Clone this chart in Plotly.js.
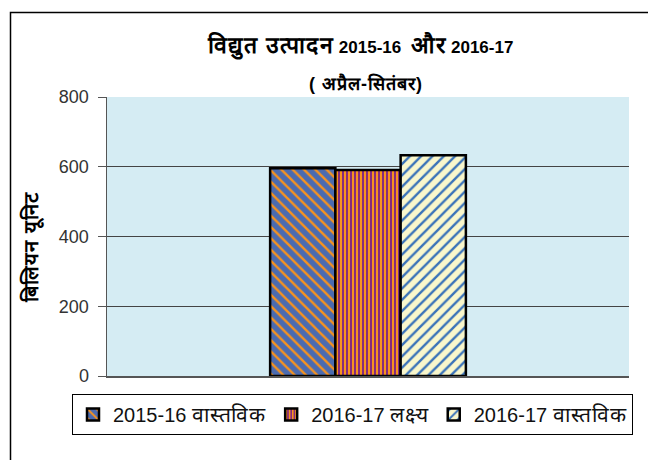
<!DOCTYPE html>
<html>
<head>
<meta charset="utf-8">
<script src="https://cdn.plot.ly/plotly-3.0.1.min.js"></script>
<style>
html,body{margin:0;padding:0;background:#fff;}
#chart{width:648px;height:460px;}
</style>
</head>
<body>
<div id="chart"></div>
<script>
const categories = ["अप्रैल-सितंबर"];
const seriesYears = ["2015-16", "2016-17", "2016-17"];
const seriesKinds = ["वास्तविक", "लक्ष्य", "वास्तविक"];
const val2015Actual = [596];
const val2016Target = [591];
const val2016Actual = [633];
const yTickVals = [0, 200, 400, 600, 800];
const titleWords = ["विद्युत उत्पादन", "2015-16", "और", "2016-17"];
const subtitleText = "( अप्रैल-सितंबर)";
const yTitle = "बिलियन यूनिट";

// Devanagari runs are slightly enlarged to match the wider reference typeface
const deva = (s, size, ls) => '<span style="font-size:' + size + 'px;letter-spacing:' + ls + 'px">' + s + '</span>';

const seriesValues = [val2015Actual, val2016Target, val2016Actual];
const styles = [
  {bg: "#4b6bb0", fg: "#f7931e", shape: "\\", size: 8, solidity: 0.3},
  {bg: "#862b7e", fg: "#f7931e", shape: "|", size: 4, solidity: 0.5},
  {bg: "#f9f7cc", fg: "#3a73b9", shape: "/", size: 8, solidity: 0.3}
];

const traces = seriesYears.map((yr, i) => ({
  type: "bar",
  name: yr + " " + deva(seriesKinds[i], 21, 0.8),
  x: categories,
  y: seriesValues[i],
  marker: {
    color: styles[i].bg,
    line: {color: "#000", width: 2.5},
    pattern: {shape: styles[i].shape, bgcolor: styles[i].bg, fgcolor: styles[i].fg,
              fgopacity: 1, size: styles[i].size, solidity: styles[i].solidity, fillmode: "overlay"}
  },
  hoverinfo: "none"
}));

const L = 107, R = 629, T = 97, B = 376;
const px2x = p => (p - L) / (R - L);
const py2y = p => (B - p) / (B - T);

const titleHtml = "<b>" + deva(titleWords[0], 23, 1.3) + " " + titleWords[1] + "  " +
  deva(titleWords[2], 23, 1.3) + " " + titleWords[3] + "</b>";
const subtitleHtml = "<b>" + deva(subtitleText, 18, 1) + "</b>";

const layout = {
  width: 648, height: 460,
  margin: {l: L, r: 648 - R, t: T, b: 460 - B, pad: 0},
  paper_bgcolor: "#fff",
  plot_bgcolor: "#d5ecf3",
  barmode: "group",
  bargap: 0.625,
  bargroupgap: 0,
  font: {family: "Liberation Sans, Arial, sans-serif", color: "#222"},
  xaxis: {
    showticklabels: false, ticks: "", showgrid: false,
    showline: true, linecolor: "#555", linewidth: 1.5
  },
  yaxis: {
    range: [0, 800], tickvals: yTickVals, ticktext: yTickVals.map(String),
    ticks: "outside", ticklen: 8, tickcolor: "#555", tickwidth: 1,
    ticklabelstandoff: 5,
    showline: true, linecolor: "#555", linewidth: 1.5,
    showgrid: true, gridcolor: "#444", gridwidth: 1,
    zeroline: false,
    tickfont: {size: 18, color: "#333"}
  },
  showlegend: true,
  legend: {
    orientation: "h",
    x: px2x(72), xanchor: "left",
    y: py2y(394), yanchor: "top",
    bordercolor: "#000", borderwidth: 1,
    font: {size: 20, color: "#111"},
    itemwidth: 30,
    tracegroupgap: 0
  },
  annotations: [
    {text: titleHtml, xref: "paper", yref: "paper",
     x: px2x(360), y: py2y(45), xanchor: "center", yanchor: "middle",
     showarrow: false, font: {size: 17, color: "#000"}},
    {text: subtitleHtml, xref: "paper", yref: "paper",
     x: px2x(366), y: py2y(84), xanchor: "center", yanchor: "middle",
     showarrow: false, font: {size: 17, color: "#000"}},
    {text: "<b>" + deva(yTitle, 20, 1) + "</b>", xref: "paper", yref: "paper",
     x: px2x(31), y: py2y(248), xanchor: "center", yanchor: "middle", textangle: -90,
     showarrow: false, font: {size: 18, color: "#000"}}
  ],
  shapes: [
    {type: "rect", xref: "paper", yref: "paper",
     x0: px2x(10.5), x1: px2x(700), y0: py2y(520), y1: py2y(12.5),
     line: {color: "#000", width: 1.5}, fillcolor: "rgba(0,0,0,0)", layer: "below"}
  ]
};

Plotly.newPlot("chart", traces, layout, {displayModeBar: false, staticPlot: true});
</script>
</body>
</html>
